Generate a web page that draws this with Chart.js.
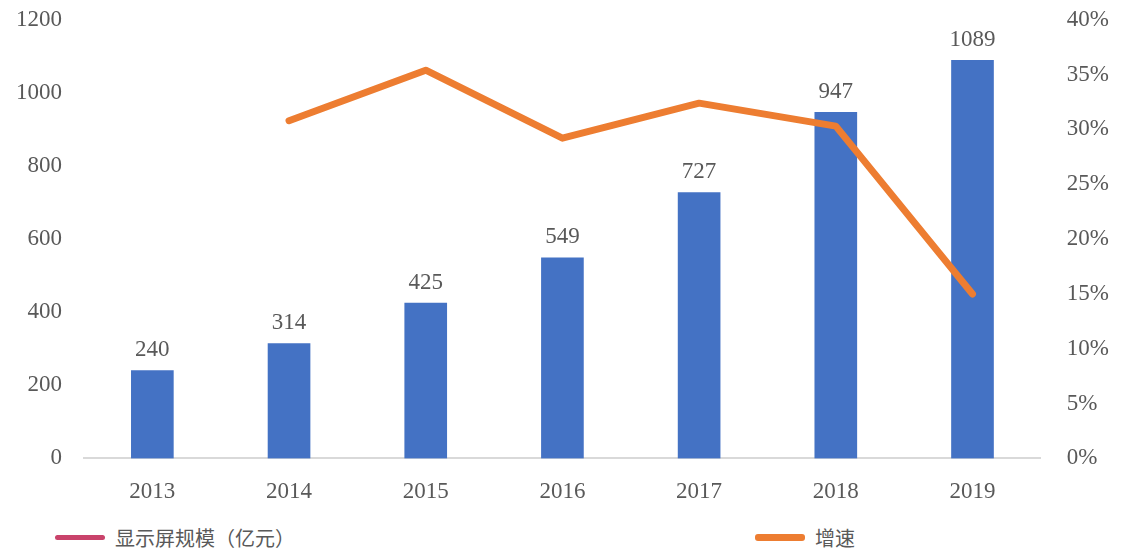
<!DOCTYPE html>
<html>
<head>
<meta charset="utf-8">
<script src="https://cdn.jsdelivr.net/npm/chart.js@4/dist/chart.umd.min.js"></script>
<style>
  html, body { margin: 0; padding: 0; background: #fff; overflow: hidden; }
  #wrap { position: relative; width: 1127px; height: 554px; overflow: hidden; }
  #box { position: absolute; left: 0; top: -12px; width: 1127px; height: 530px; }
  #legend { position: absolute; top: 522px; left: 0; width: 1127px; height: 30px;
            font-family: "Noto Sans CJK SC", sans-serif; font-size: 20px; color: #595959; }
  .item { position: absolute; top: 0; display: flex; align-items: center; height: 30px; }
  .mark { width: 50px; height: 5px; border-radius: 3px; margin-right: 10px; }
</style>
</head>
<body>
<div id="wrap">
  <div id="box"><canvas id="chart"></canvas></div>
  <div id="legend">
    <div class="item" style="left:55px"><span class="mark" style="background:#C9436B"></span>显示屏规模（亿元）</div>
    <div class="item" style="left:755px"><span class="mark" style="background:#ED7D31;height:7px"></span>增速</div>
  </div>
</div>
<script>
const years = ["2013", "2014", "2015", "2016", "2017", "2018", "2019"];
const scale = [240, 314, 425, 549, 727, 947, 1089];
const growth = [null, 30.8, 35.4, 29.2, 32.4, 30.3, 15.0];
const leftTicks = [0, 200, 400, 600, 800, 1000, 1200];
const rightTicks = [0, 5, 10, 15, 20, 25, 30, 35, 40];

const grey = "#595959";
const serif = "'Liberation Serif', 'DejaVu Serif', serif";
const fontSize = 23;

// value labels above bars
const barLabels = {
    id: "barLabels",
    afterDatasetsDraw(chart) {
        const ctx = chart.ctx;
        const meta = chart.getDatasetMeta(1);
        ctx.save();
        ctx.fillStyle = grey;
        ctx.font = fontSize + "px " + serif;
        ctx.textAlign = "center";
        ctx.textBaseline = "bottom";
        meta.data.forEach((bar, i) => {
            ctx.fillText(String(scale[i]), bar.x, bar.y - 9);
        });
        ctx.restore();
    },
};

new Chart(document.getElementById("chart"), {
    data: {
        labels: years,
        datasets: [
            {
                type: "line",
                label: "增速",
                data: growth,
                yAxisID: "y1",
                borderColor: "#ED7D31",
                borderWidth: 7,
                borderCapStyle: "round",
                borderJoinStyle: "round",
                pointRadius: 0,
                spanGaps: false,
                tension: 0,
                order: 0,
            },
            {
                type: "bar",
                label: "显示屏规模（亿元）",
                data: scale,
                yAxisID: "y",
                backgroundColor: "#4472C4",
                barThickness: 42,
                order: 1,
            },
        ],
    },
    options: {
        responsive: true,
        maintainAspectRatio: false,
        animation: false,
        layout: { padding: { left: 2, right: 0, top: 0, bottom: 0 } },
        plugins: {
            legend: { display: false },
            tooltip: { enabled: false },
        },
        scales: {
            x: {
                grid: { display: false },
                border: { color: "#D9D9D9", width: 2 },
                ticks: { color: grey, font: { family: serif, size: fontSize }, padding: 12 },
            },
            y: {
                position: "left",
                min: 0,
                max: 1200,
                afterBuildTicks: (axis) => { axis.ticks = leftTicks.map((v) => ({ value: v })); },
                grid: { display: false },
                border: { display: false },
                ticks: { color: grey, font: { family: serif, size: fontSize }, padding: 14,
                         callback: (v) => String(v) },
            },
            y1: {
                position: "right",
                min: 0,
                max: 40,
                afterBuildTicks: (axis) => { axis.ticks = rightTicks.map((v) => ({ value: v })); },
                grid: { display: false },
                border: { display: false },
                ticks: { color: grey, font: { family: serif, size: fontSize }, padding: 18,
                         callback: (v) => v + "%" },
            },
        },
    },
    plugins: [barLabels],
});
</script>
</body>
</html>
